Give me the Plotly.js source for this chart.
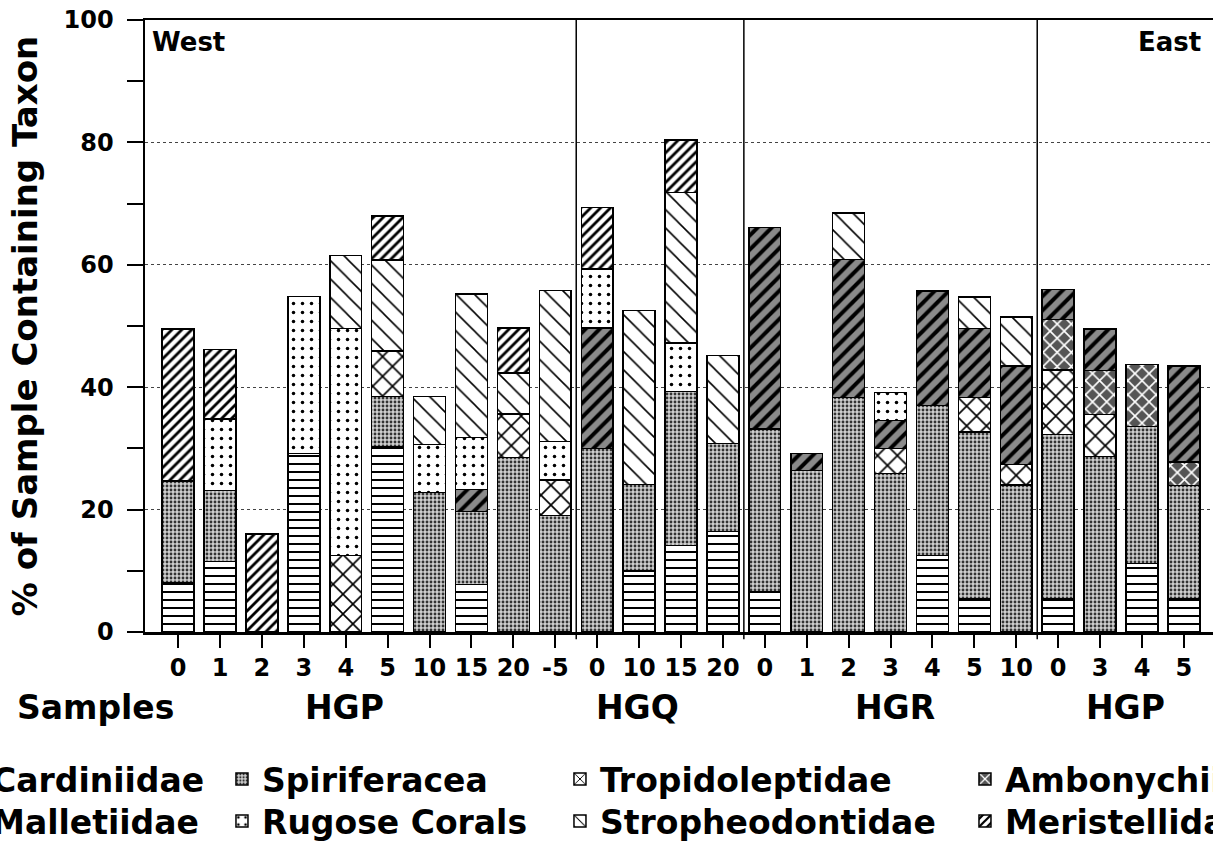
<!DOCTYPE html>
<html><head><meta charset="utf-8">
<script src="https://cdn.plot.ly/plotly-3.0.1.min.js"></script>
<style>html,body{margin:0;padding:0;overflow:hidden;background:#fff}</style>
</head><body>
<div id="chart" style="width:1220px;height:846px"></div>
<script>
// Sample tick labels (25 bars, left = West, right = East)
const tickLabels = ['0','1','2','3','4','5','10','15','20','-5','0','10','15','20','0','1','2','3','4','5','10','0','3','4','5'];
const groupNames = ['HGP','HGQ','HGR','HGP'];
const groupPos = [3.98, 10.95, 17.1, 22.6];
const separators = [9.5, 13.5, 20.5];

// % of samples containing each taxon (stacked segments)
const cardiniidae   = [8.0,11.5,0,29.2,0,30.3,0,7.8,0,0, 0,10.0,14.1,16.4, 6.5,0,0,0,12.5,5.5,0, 5.5,0,11.2,5.5];
const spiriferacea  = [16.7,11.6,0,0,0,8.2,22.8,11.9,28.5,19.0, 30.0,14.1,25.2,14.4, 26.7,26.4,38.3,25.9,24.5,27.2,24.0, 26.8,28.7,22.4,18.4];
const tropidoleptidae = [0,0,0,0,12.5,7.4,0,0,7.1,5.8, 0,0,0,0, 0,0,0,4.1,0,5.6,3.4, 10.5,6.8,0,0];
const ambonychiidae = [0,0,0,0,0,0,0,0,0,0, 0,0,0,0, 0,0,0,0,0,0,0, 8.3,7.2,10.1,3.9];
const malletiidae   = [0,0,0,0,0,0,0,3.6,0,0, 19.7,0,0,0, 32.9,2.8,22.6,4.6,18.7,11.3,16.1, 4.9,6.8,0,15.7];
const rugoseCorals  = [0,11.7,0,25.6,37.1,0,7.8,8.5,0,6.3, 9.6,0,7.9,0, 0,0,0,4.5,0,0,0, 0,0,0,0];
const stropheodontidae = [0,0,0,0,11.9,14.9,7.9,23.4,6.7,24.7, 0,28.4,24.6,14.4, 0,0,7.6,0,0,5.1,8.0, 0,0,0,0];
const meristellidae = [24.8,11.4,16.0,0,0,7.2,0,0,7.4,0, 10.1,0,8.6,0, 0,0,0,0,0,0,0, 0,0,0,0];

const FONT = 'DejaVu Sans, sans-serif';
const xs = tickLabels.map((_, i) => i);
const nz = a => a.map(v => v === 0 ? null : v);

const series = [
  {name:'Cardiniidae', y:cardiniidae, pat:{shape:'-', fgcolor:'#000', bgcolor:'#fff', size:8, solidity:0.25}},
  {name:'Spiriferacea', y:spiriferacea, pat:{shape:'.', fgcolor:'#333', bgcolor:'#cfcfcf', size:4, solidity:0.4}},
  {name:'Tropidoleptidae', y:tropidoleptidae, pat:{shape:'x', fgcolor:'#000', bgcolor:'#fff', size:14, solidity:0.22}},
  {name:'Ambonychiidae', y:ambonychiidae, pat:{shape:'x', fgcolor:'#fff', bgcolor:'#555', size:10, solidity:0.3}},
  {name:'Malletiidae', y:malletiidae, pat:{shape:'/', fgcolor:'#000', bgcolor:'#8a8a8a', size:10, solidity:0.4}},
  {name:'Rugose Corals', y:rugoseCorals, pat:{shape:'.', fgcolor:'#000', bgcolor:'#fff', size:9, solidity:0.12}},
  {name:'Stropheodontidae', y:stropheodontidae, pat:{shape:'\\', fgcolor:'#000', bgcolor:'#fff', size:13, solidity:0.12}},
  {name:'Meristellidae', y:meristellidae, pat:{shape:'/', fgcolor:'#000', bgcolor:'#fff', size:7, solidity:0.4}}
];

const legendIds = ['legend','legend2','legend3','legend4','legend5','legend6','legend7','legend8'];
const colX = [-0.180, 0.0718, 0.3871, 0.7649];
const rowY = [-0.2402, -0.3088];

const traces = series.map((s, i) => ({
  type:'bar', name:s.name, x:xs, y:nz(s.y),
  legend: legendIds[i],
  marker:{color:s.pat.bgcolor, pattern:Object.assign({fillmode:'replace'}, s.pat), line:{color:'#000', width:1.5}},
  hoverinfo:'name+y'
}));

const tickFont = {family:FONT, size:24, weight:'bold', color:'#000'};
const bigFont = {family:FONT, size:33, weight:'bold', color:'#000'};

const layout = {
  width:1220, height:846,
  margin:{l:145, r:3, t:20, b:214, autoexpand:false},
  paper_bgcolor:'#fff', plot_bgcolor:'#fff',
  barmode:'stack', bargap:0.24,
  font:{family:FONT, color:'#000'},
  xaxis:{range:[-0.79, 24.79], tickvals:xs, ticktext:tickLabels, ticks:'outside', ticklen:13, tickwidth:2,
    tickcolor:'#000', showline:true, linewidth:2.5, linecolor:'#000', mirror:true, showgrid:false, zeroline:false,
    tickfont:tickFont, fixedrange:true},
  yaxis:{range:[0,100], tick0:0, dtick:20, ticks:'outside', ticklen:16, tickwidth:2, tickcolor:'#000',
    showline:true, linewidth:2.5, linecolor:'#000', mirror:true, showgrid:true, gridcolor:'#444', griddash:'dot',
    gridwidth:1, zeroline:false, tickfont:tickFont, ticklabelstandoff:8, fixedrange:true,
    minor:{dtick:10, ticks:'outside', ticklen:16, tickwidth:2, tickcolor:'#000', showgrid:false},
    title:{text:'% of Sample Containing Taxon', font:{family:FONT, size:34, weight:'bold', color:'#000'}, standoff:16}},
  shapes: separators.map(s => ({type:'line', xref:'x', yref:'paper', x0:s, x1:s, y0:-0.012, y1:1, line:{color:'#000', width:1.5}})),
  annotations: [
    {text:'Samples', xref:'paper', yref:'paper', x:(15-145)/1072, y:-0.124, xanchor:'left', yanchor:'middle', showarrow:false, font:bigFont},
    ...groupNames.map((g, i) => ({text:g, xref:'x', yref:'paper', x:groupPos[i], y:-0.124, xanchor:'center', yanchor:'middle', showarrow:false, font:bigFont})),
    {text:'West', xref:'paper', yref:'paper', x:0.005, y:0.964, xanchor:'left', yanchor:'middle', showarrow:false, font:{family:FONT, size:26, weight:'bold', color:'#000'}},
    {text:'East', xref:'paper', yref:'paper', x:0.987, y:0.964, xanchor:'right', yanchor:'middle', showarrow:false, font:{family:FONT, size:26, weight:'bold', color:'#000'}}
  ],
  showlegend:true
};
legendIds.forEach((id, i) => {
  layout[id] = {xref:'paper', yref:'paper', x:colX[i % 4], y:rowY[Math.floor(i / 4)], xanchor:'left', yanchor:'middle',
    orientation:'v', bgcolor:'rgba(0,0,0,0)', borderwidth:0, font:bigFont, itemclick:false, itemdoubleclick:false};
});

Plotly.newPlot('chart', traces, layout, {displayModeBar:false, staticPlot:true});
</script>
</body></html>
